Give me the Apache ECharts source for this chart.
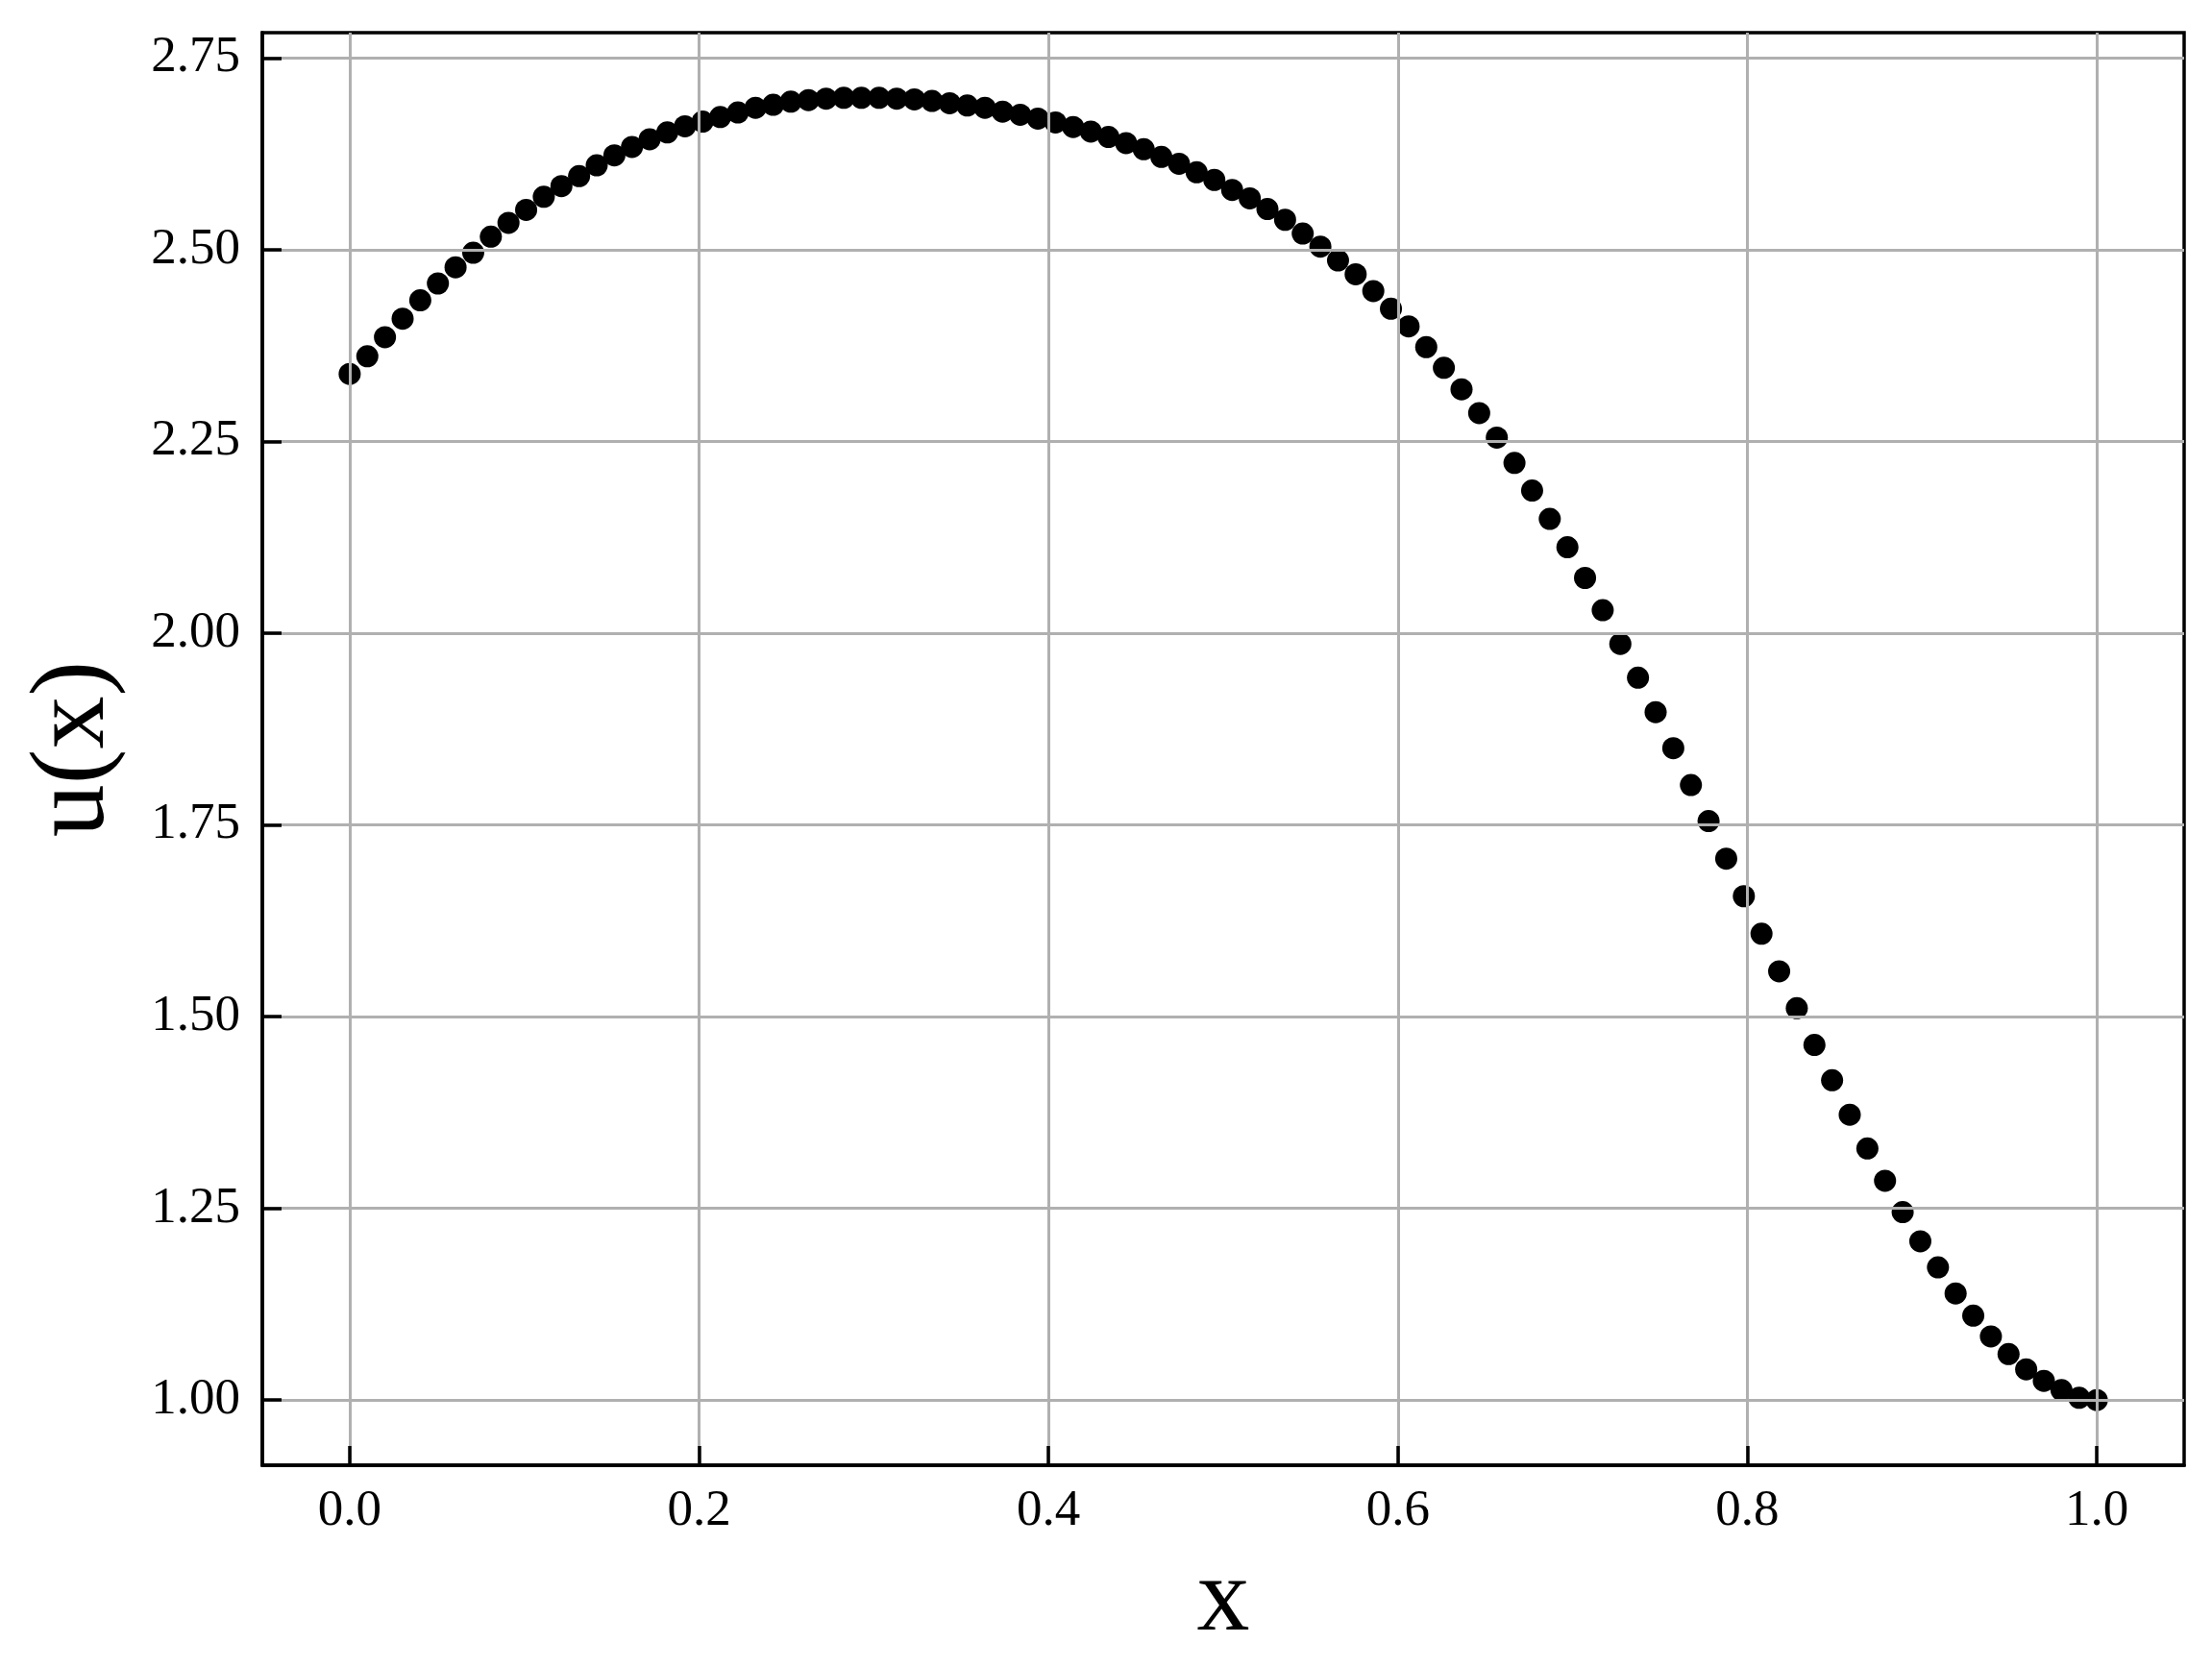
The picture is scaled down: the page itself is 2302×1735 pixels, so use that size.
<!DOCTYPE html>
<html>
<head>
<meta charset="utf-8">
<script src="https://cdn.jsdelivr.net/npm/echarts@6/dist/echarts.min.js"></script>
<style>
  html, body { margin: 0; padding: 0; background: #ffffff; }
  #chart { width: 2302px; height: 1735px; }
</style>
</head>
<body>
<div id="chart"></div>
<script>
// sample points (100 evenly spaced points from 0 to 1)
const xValues = [
  0.0000,0.0101,0.0202,0.0303,0.0404,0.0505,0.0606,0.0707,0.0808,0.0909,
  0.1010,0.1111,0.1212,0.1313,0.1414,0.1515,0.1616,0.1717,0.1818,0.1919,
  0.2020,0.2121,0.2222,0.2323,0.2424,0.2525,0.2626,0.2727,0.2828,0.2929,
  0.3030,0.3131,0.3232,0.3333,0.3434,0.3535,0.3636,0.3737,0.3838,0.3939,
  0.4040,0.4141,0.4242,0.4343,0.4444,0.4545,0.4646,0.4747,0.4848,0.4949,
  0.5051,0.5152,0.5253,0.5354,0.5455,0.5556,0.5657,0.5758,0.5859,0.5960,
  0.6061,0.6162,0.6263,0.6364,0.6465,0.6566,0.6667,0.6768,0.6869,0.6970,
  0.7071,0.7172,0.7273,0.7374,0.7475,0.7576,0.7677,0.7778,0.7879,0.7980,
  0.8081,0.8182,0.8283,0.8384,0.8485,0.8586,0.8687,0.8788,0.8889,0.8990,
  0.9091,0.9192,0.9293,0.9394,0.9495,0.9596,0.9697,0.9798,0.9899,1.0000
];

// u(x) values
const uValues = [
  2.338,2.361,2.386,2.410,2.434,2.456,2.477,2.496,2.517,2.535,
  2.552,2.569,2.583,2.596,2.610,2.623,2.634,2.644,2.653,2.661,
  2.667,2.673,2.679,2.685,2.689,2.693,2.695,2.697,2.698,2.698,
  2.698,2.697,2.696,2.694,2.691,2.688,2.685,2.680,2.676,2.671,
  2.666,2.660,2.654,2.647,2.639,2.631,2.621,2.612,2.601,2.591,
  2.578,2.567,2.553,2.539,2.521,2.504,2.486,2.468,2.446,2.423,
  2.400,2.373,2.346,2.318,2.287,2.255,2.222,2.186,2.149,2.112,
  2.072,2.030,1.986,1.942,1.897,1.850,1.802,1.755,1.706,1.657,
  1.608,1.559,1.511,1.463,1.417,1.372,1.328,1.286,1.245,1.207,
  1.173,1.139,1.110,1.083,1.060,1.040,1.025,1.013,1.003,1.000
];

const xTicks = [0.0, 0.2, 0.4, 0.6, 0.8, 1.0];
const yTicks = [1.00, 1.25, 1.50, 1.75, 2.00, 2.25, 2.50, 2.75];

const xLabel = 'x';
const yLabel = 'u(x)';

const seriesData = xValues.map((x, i) => [x, uValues[i]]);

const FONT = '"Liberation Serif", "DejaVu Serif", serif';

const chart = echarts.init(document.getElementById('chart'), null, { renderer: 'canvas' });

chart.setOption({
  backgroundColor: '#ffffff',
  animation: false,
  grid: {
    left: 273,
    top: 34,
    width: 2000,
    height: 1491,
    containLabel: false,
    outerBoundsMode: 'none',
    show: true,
    borderColor: '#000000',
    borderWidth: 3.5,
    backgroundColor: 'transparent'
  },
  xAxis: {
    type: 'value',
    min: -0.05,
    max: 1.05,
    z: 5,
    name: xLabel,
    nameLocation: 'middle',
    nameGap: 87,
    nameTextStyle: { fontFamily: FONT, fontSize: 110, color: '#000' },
    axisLine: { show: true, onZero: false, lineStyle: { color: '#000', width: 3.5 } },
    axisTick: {
      show: true, inside: true, length: 20,
      customValues: xTicks,
      lineStyle: { color: '#000', width: 3.5 }
    },
    axisLabel: {
      show: true, margin: 22,
      customValues: xTicks,
      formatter: v => Number(v).toFixed(1),
      fontFamily: FONT, fontSize: 53, color: '#000'
    },
    splitLine: { show: true, lineStyle: { color: '#b0b0b0', width: 3 } },
    minorTick: { show: false },
    minorSplitLine: { show: false }
  },
  yAxis: {
    type: 'value',
    min: 0.915,
    max: 2.783,
    z: 5,
    name: yLabel,
    nameLocation: 'middle',
    nameRotate: 90,
    nameGap: 140,
    nameTextStyle: { fontFamily: FONT, fontSize: 110, color: '#000' },
    axisLine: { show: true, onZero: false, lineStyle: { color: '#000', width: 3.5 } },
    axisTick: {
      show: true, inside: true, length: 20,
      customValues: yTicks,
      lineStyle: { color: '#000', width: 3.5 }
    },
    axisLabel: {
      show: true, margin: 23,
      customValues: yTicks,
      formatter: v => Number(v).toFixed(2),
      fontFamily: FONT, fontSize: 53, color: '#000'
    },
    splitLine: { show: true, lineStyle: { color: '#b0b0b0', width: 3 } }
  },
  series: [{
    type: 'scatter',
    z: 1,
    data: seriesData,
    symbol: 'circle',
    symbolSize: 23,
    itemStyle: { color: '#000000', opacity: 1 },
    emphasis: { disabled: true }
  }]
});
</script>
</body>
</html>
